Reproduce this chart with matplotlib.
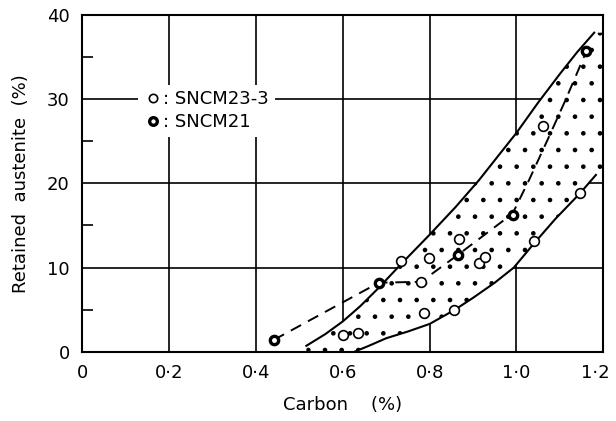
import numpy as np
import matplotlib
matplotlib.use("Agg")
import matplotlib.pyplot as plt
from matplotlib.lines import Line2D
from matplotlib.transforms import ScaledTranslation

plt.rcParams["font.family"] = ["DejaVu Sans"]
plt.rcParams["hatch.linewidth"] = 0.9

# open circles, SNCM23-3
sncm23_x = [0.600, 0.634, 0.734, 0.780, 0.788, 0.799, 0.857, 0.867, 0.914, 0.928, 1.041, 1.060, 1.146]
sncm23_y = [2.0, 2.2, 10.8, 8.3, 4.6, 11.1, 4.95, 13.35, 10.5, 11.2, 13.2, 26.8, 18.8]

# half filled circles, SNCM21
sncm21_x = [0.441, 0.683, 0.865, 0.991, 1.161]
sncm21_y = [1.4, 8.2, 11.5, 16.2, 35.7]

# dashed trend line
dash_x = [0.441, 0.683, 0.780, 0.865, 0.991, 1.029, 1.071, 1.113, 1.161]
dash_y = [1.4, 8.2, 8.3, 11.5, 16.4, 20.4, 25.1, 29.9, 35.7]

# band limits (solid curves)
upper_x = [0.516, 0.560, 0.600, 0.640, 0.681, 0.734, 0.800, 0.860, 0.914, 0.960,
           1.000, 1.050, 1.100, 1.140, 1.179]
upper_y = [0.7, 2.1, 3.6, 5.4, 7.5, 10.4, 13.9, 17.2, 20.4, 23.4,
           26.0, 29.6, 33.0, 35.6, 37.9]
lower_x = [0.627, 0.660, 0.700, 0.750, 0.800, 0.857, 0.900, 0.950, 0.994, 1.041,
           1.090, 1.146, 1.183]
lower_y = [0.0, 0.7, 1.6, 2.4, 3.3, 4.95, 6.4, 8.2, 10.0, 12.9,
           15.8, 18.8, 21.0]

x_ticks = [0, 0.2, 0.4, 0.6, 0.8, 1.0, 1.2]
x_labels = ["0", "0·2", "0·4", "0·6", "0·8", "1·0", "1·2"]
y_ticks = [0, 10, 20, 30, 40]

fig = plt.figure(figsize=(6.16, 4.21), dpi=100)
ax = fig.add_axes([0.1336, 0.1646, 0.8458, 0.7998])
ax.set_xlim(0, 1.2)
ax.set_ylim(0, 40)

# stippled band (white underneath hides the grid)
xmax = ax.get_xlim()[1]
poly_x = np.concatenate([upper_x, [xmax, xmax], lower_x[::-1], [upper_x[0]]])
poly_y = np.concatenate([upper_y, [upper_y[-1], lower_y[-1]], lower_y[::-1], [0]])
ax.fill(poly_x, poly_y, facecolor="white", edgecolor="black", linewidth=0,
        hatch=".", zorder=1)

ax.plot(upper_x, upper_y, color="black", lw=1.5, zorder=3)
ax.plot(lower_x, lower_y, color="black", lw=1.5, zorder=3)
ax.plot(dash_x, dash_y, color="black", lw=1.4, ls=(0, (6, 4)), zorder=3)

ax.plot(sncm23_x, sncm23_y, ls="none", marker="o", ms=7, mfc="white",
        mec="black", mew=1.2, zorder=4)
ax.plot(sncm21_x, sncm21_y, ls="none", marker="o", ms=6, mfc="white",
        mec="black", mew=2.4, zorder=5)

ax.set_xticks(x_ticks)
ax.set_xticklabels(x_labels)
ax.set_yticks(y_ticks)
ax.set_yticks([5, 15, 25, 35], minor=True)
ax.tick_params(axis="both", which="major", length=0, labelsize=13, pad=9)
ax.tick_params(axis="y", which="minor", direction="in", length=8, width=1.2)
ax.grid(True, which="major", color="black", lw=1.2)
ax.set_axisbelow(True)
for s in ax.spines.values():
    s.set_linewidth(1.5)

# keep the last x label inside the picture
last = ax.get_xticklabels()[-1]
last.set_transform(last.get_transform() + ScaledTranslation(-0.08, 0, fig.dpi_scale_trans))

ax.set_xlabel("Carbon    (%)", fontsize=13, labelpad=10)
ax.set_ylabel("Retained  austenite  (%)", fontsize=13, labelpad=12)

handles = [
    Line2D([], [], ls="none", marker="o", ms=6, mfc="white", mec="black", mew=1.2),
    Line2D([], [], ls="none", marker="o", ms=5.5, mfc="white", mec="black", mew=2.4),
]
leg = ax.legend(handles, [": SNCM23-3", ": SNCM21"], loc="upper left",
                bbox_to_anchor=(0.09, 0.82), fontsize=13, frameon=True,
                framealpha=1, facecolor="white", edgecolor="none",
                handletextpad=0.1, handlelength=1.0, borderpad=0.3,
                labelspacing=0.3, fancybox=False)
leg.set_zorder(6)

fig.savefig("out.png", dpi=100)
